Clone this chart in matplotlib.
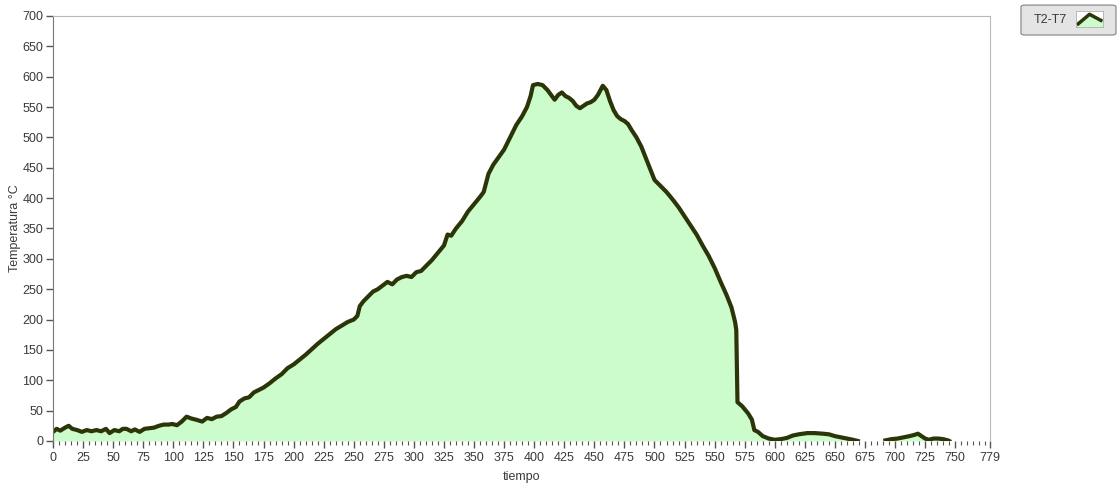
"""Temperatura T2-T7 frente a tiempo, curva rellena."""

import matplotlib
matplotlib.use("Agg")
import matplotlib.pyplot as plt
import numpy as np
from matplotlib.patches import FancyBboxPatch
from matplotlib.ticker import MultipleLocator

plt.rcParams["font.family"] = ["Liberation Sans Narrow", "Liberation Sans", "DejaVu Sans"]

# tiempo y temperatura del primer tramo (hasta que el registro se corta)
TIEMPO_A = [
    0, 3, 6, 10, 13, 16, 20, 24, 28, 32, 36, 40, 44, 47, 51, 55, 58, 61, 65, 68,
    72, 76, 80, 84, 88, 92, 96, 99, 103, 107, 111, 115, 119, 124, 128, 132, 136,
    140, 144, 148, 152, 155, 159, 163, 167, 171, 175, 180, 185, 190, 195, 200,
    205, 210, 215, 220, 225, 230, 235, 240, 245, 250, 253, 255, 258, 262, 266,
    270, 274, 278, 282, 286, 290, 294, 298, 302, 306, 310, 315, 320, 325, 328,
    331, 335, 340, 345, 350, 355, 358, 362, 366, 370, 375, 380, 385, 390, 394,
    397, 399, 403, 407, 411, 414, 417, 420, 423, 426, 429, 432, 435, 438, 441,
    444, 447, 450, 453, 457, 460, 463, 466, 469, 472, 475, 478, 481, 485, 489,
    493, 497, 500, 505, 510, 515, 520, 525, 530, 535, 540, 545, 550, 555, 560,
    564, 567, 568, 569, 573, 578, 581, 583, 586, 590, 595, 600, 605, 610, 615,
    620, 627, 633, 640, 645, 650, 655, 660, 665, 669,
]
TEMP_A = [
    15, 20, 17, 22, 25, 20, 18, 15, 18, 16, 18, 16, 20, 13, 18, 16, 20, 20, 16, 19,
    15, 20, 21, 22, 25, 27, 27, 28, 26, 32, 40, 37, 35, 32, 38, 36, 40,
    41, 46, 52, 56, 65, 70, 72, 80, 84, 88, 95, 103, 110, 120, 126,
    134, 142, 151, 160, 168, 176, 184, 190, 196, 200, 206, 222, 230, 238, 246,
    250, 256, 262, 258, 266, 270, 272, 270, 278, 280, 288, 298, 310, 322, 340,
    338, 350, 362, 378, 390, 402, 410, 440, 455, 466, 480, 500, 520, 535, 550,
    568, 586, 588, 586, 578, 570, 562, 570, 574, 568, 565, 560, 552, 548, 552,
    556, 558, 562, 570, 585, 578, 560, 545, 535, 530, 527, 522, 512, 500, 485,
    465, 445, 430, 420, 410, 398, 385, 370, 355, 340, 322, 305, 285, 262, 240,
    220, 196, 183, 64, 57, 45, 35, 18, 15, 8, 4, 2, 3, 5, 9,
    11, 13, 13, 12, 11, 8, 6, 4, 2, 0,
]

# segundo tramo, tras el hueco sin datos
TIEMPO_B = [692, 697, 702, 707, 712, 716, 719, 722, 725, 728, 732, 736, 740, 744, 745]
TEMP_B = [1, 3, 4, 6, 8, 10, 12, 8, 4, 2, 4, 4, 3, 1, 0]

X_TICKS = list(range(0, 751, 25)) + [779]
LINE_COLOR = "#2b3508"
FILL_COLOR = "#ccfccc"
TEXT_COLOR = "#3a3a3a"


def main():
    t = np.array(TIEMPO_A + [np.nan] + TIEMPO_B, dtype=float)
    temp = np.array(TEMP_A + [np.nan] + TEMP_B, dtype=float)

    fig = plt.figure(figsize=(11.19, 4.83), dpi=100)
    ax = fig.add_axes([0.0474, 0.087, 0.8374, 0.88])

    for tt, yy in [(TIEMPO_A, TEMP_A), (TIEMPO_B, TEMP_B)]:
        ax.fill_between(tt, yy, 0, color=FILL_COLOR, lw=0, zorder=1)
    ax.plot(t, temp, color=LINE_COLOR, lw=3.0, solid_joinstyle="round", zorder=2)

    ax.set_xlim(0, 779)
    ax.set_ylim(0, 700)
    ax.set_xticks(X_TICKS)
    ax.xaxis.set_minor_locator(MultipleLocator(5))
    ax.set_yticks(range(0, 701, 50))
    ax.tick_params(axis="both", which="major", length=5, width=1,
                   color="#555555", labelsize=9, labelcolor=TEXT_COLOR)
    ax.tick_params(axis="x", which="major", pad=3)
    ax.tick_params(axis="y", which="major", pad=2)
    ax.tick_params(axis="x", which="minor", length=3, width=0.8, color="#555555")

    for side in ["top", "right"]:
        ax.spines[side].set_color("#b8b8b8")
        ax.spines[side].set_linewidth(0.8)
    ax.spines["left"].set_color("#777777")
    ax.spines["bottom"].set_visible(False)

    ax.set_xlabel("tiempo", fontsize=9, color=TEXT_COLOR, labelpad=5)
    ax.set_ylabel("Temperatura °C", fontsize=9, color=TEXT_COLOR, labelpad=1)

    # cuadro de leyenda estilo panel
    box = FancyBboxPatch((0.9124, 0.9275), 0.0849, 0.062,
                         boxstyle="round,pad=0,rounding_size=0.004",
                         transform=fig.transFigure, facecolor="#e4e4e4",
                         edgecolor="#8c8c8c", lw=0.9, zorder=-1)
    fig.patches.append(box)
    fig.text(0.9383, 0.9586, "T2-T7", fontsize=9, color=TEXT_COLOR,
             ha="center", va="center")
    icon = fig.add_axes([0.9616, 0.944, 0.0241, 0.033], zorder=5)
    icon.set_xlim(0, 1)
    icon.set_ylim(0, 1)
    icon.fill_between([0, 0.5, 1], [0.2, 0.85, 0.4], 0, color=FILL_COLOR, lw=0)
    icon.plot([0.08, 0.5, 0.92], [0.2, 0.8, 0.42], color=LINE_COLOR, lw=2.5)
    icon.set_xticks([])
    icon.set_yticks([])
    for s in icon.spines.values():
        s.set_color("#b0b0b0")
        s.set_linewidth(0.6)

    fig.savefig("out.png", dpi=100)
    plt.close(fig)


if __name__ == "__main__":
    main()
